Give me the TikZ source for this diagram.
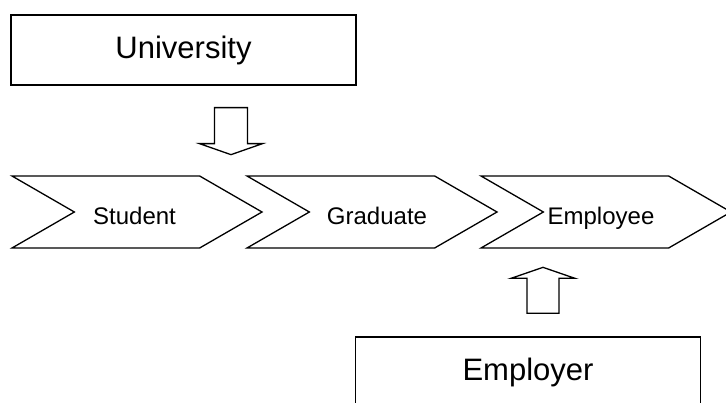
\documentclass[tikz,border=0pt]{standalone}
\usepackage{fontspec}
\setmainfont{Liberation Sans}
\usetikzlibrary{shapes.symbols,positioning}
\tikzset{
    %Define style for boxes
    box/.style={
           rectangle,
           draw=black, line width=1.3pt,
           minimum width=345pt,
           minimum height=70pt,
           font=\fontsize{31}{36}\selectfont,
           text centered},
    %Define style for the steps
    chevron/.style={
           signal, signal to=east, signal from=west,
           signal pointer angle=60,
           draw=black, line width=1.3pt,
           minimum width=250pt,
           minimum height=72pt,
           inner sep=0pt,
           text height=26pt, text depth=0pt,
           font=\fontsize{24}{28}\selectfont,
           text centered},
    % Define block arrow style
    hollow/.style={
           draw=black, line width=1.3pt,
           line join=miter}
}
\begin{document}
\begin{tikzpicture}[x=1pt,y=-1pt]
\clip (0,0) rectangle (726,403);
 %nodes
\node[box](1) at (183.5,50){University};
\node[chevron](2) at (137,212){\hspace*{-5pt}Student};
\node[chevron](3) at (372,212){\hspace*{10pt}Graduate};
\node[chevron](4) at (606,212){\hspace*{-10pt}Employee};
\node[box](5) at (528,372){Employer};
 %arrows
\draw[hollow] ([xshift=31pt,yshift=-22pt]1.south) -- ++(33,0) -- ++(0,36)
    -- ++(15,0) -- ++(-31.5,11) -- ++(-31.5,-11) -- ++(15,0) -- cycle;
\draw[hollow] ([xshift=-1pt,yshift=23pt]5.north) -- ++(32,0) -- ++(0,-35)
    -- ++(16,0) -- ++(-32,-11) -- ++(-32,11) -- ++(16,0) -- cycle;
\end{tikzpicture}
\end{document}
